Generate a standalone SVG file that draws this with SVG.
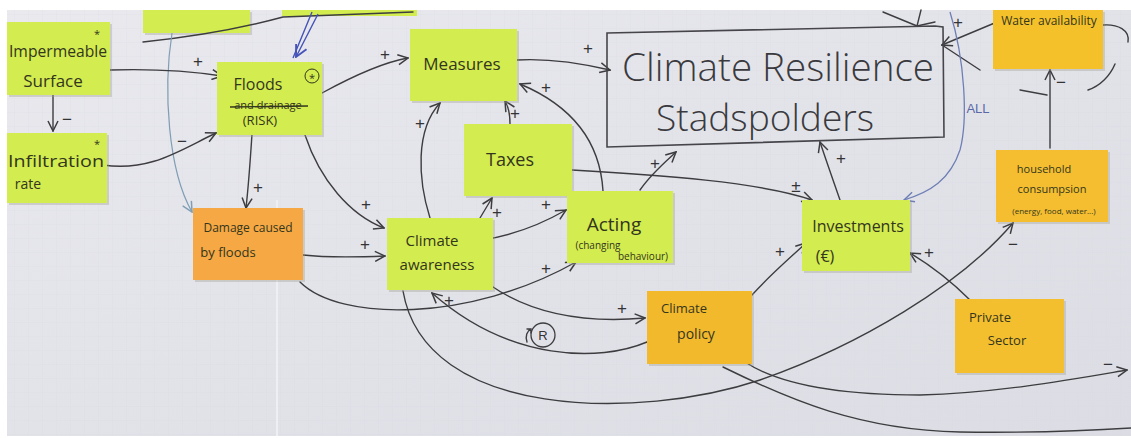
<svg xmlns="http://www.w3.org/2000/svg" width="1131" height="438" viewBox="0 0 1131 438">
<defs>
<linearGradient id="paper" x1="0" y1="0" x2="1" y2="1">
<stop offset="0" stop-color="#e9e9ee"/><stop offset="0.5" stop-color="#e2e3e9"/><stop offset="1" stop-color="#dcdde4"/>
</linearGradient>
<pattern id="grid" width="14" height="14" patternUnits="userSpaceOnUse">
<path d="M14,0 L0,0 0,14" fill="none" stroke="#d3d5de" stroke-width="0.6"/>
</pattern>
<marker id="ah" viewBox="0 0 12 12" refX="11" refY="6" markerWidth="12" markerHeight="12" markerUnits="userSpaceOnUse" orient="auto">
<path d="M1,1 L11,6 L1,11" fill="none" stroke="#3d3d40" stroke-width="1.5"/>
</marker>
<marker id="ahb" viewBox="0 0 12 12" refX="11" refY="6" markerWidth="12" markerHeight="12" markerUnits="userSpaceOnUse" orient="auto">
<path d="M1,1 L11,6 L1,11" fill="none" stroke="#7f9db5" stroke-width="1.5"/>
</marker>
<marker id="ahd" viewBox="0 0 12 12" refX="11" refY="6" markerWidth="14" markerHeight="14" markerUnits="userSpaceOnUse" orient="auto">
<path d="M1,1 L11,6 L1,11" fill="none" stroke="#4453b8" stroke-width="1.6"/>
</marker>
<marker id="ahl" viewBox="0 0 12 12" refX="11" refY="6" markerWidth="12" markerHeight="12" markerUnits="userSpaceOnUse" orient="auto">
<path d="M1,1 L11,6 L1,11" fill="none" stroke="#6f7fb5" stroke-width="1.5"/>
</marker>
</defs>
<style>
.lime{fill:#d3ec4f}
.orange{fill:#f6a844}
.amber{fill:#f3b92c}
.shadow{fill:#9a9c8c;opacity:0.35}
.t{font-family:"Open Sans","Liberation Sans",sans-serif;fill:#33361e;text-anchor:middle;dominant-baseline:central}
.big{font-family:"Open Sans","Liberation Sans",sans-serif;font-weight:300;fill:#3a3a3e;text-anchor:middle;dominant-baseline:central}
.c{fill:none;stroke:#3d3d40;stroke-width:1.4;stroke-linecap:round}
.cb{fill:none;stroke:#7f9db5;stroke-width:1.2}
.lbl{font-family:"Liberation Sans",sans-serif;font-size:17px;fill:#333336;text-anchor:middle;dominant-baseline:central}
</style>
<rect width="1131" height="438" fill="#ffffff"/>
<rect x="7" y="10" width="1124" height="426" fill="url(#paper)"/>
<rect x="7" y="10" width="1124" height="426" fill="url(#grid)" opacity="0.5"/>
<line x1="277" y1="200" x2="277" y2="436" stroke="#eeeef3" stroke-width="2"/>

<g id="top-note-1"><rect x="145" y="12" width="107" height="23" class="shadow"/><rect x="143" y="10" width="107" height="23" class="lime"/></g>
<g id="top-note-2"><rect x="282" y="10" width="135" height="6" class="lime"/></g>

<g id="connectors">
<path class="c" d="M143,42 C200,36 250,26 283,17 L413,12"/>
<path class="cb" d="M172,33 C163,90 168,170 192,212" marker-end="url(#ahb)"/>
<path fill="none" stroke="#4453b8" stroke-width="1.4" d="M312,12 L293,58 M318,14 L296,57" marker-end="url(#ahd)"/>
<path class="c" d="M110,70 Q170,68 222,76" marker-end="url(#ah)"/>
<text class="lbl" x="198" y="61">+</text>
<path class="c" d="M53,95 L53,131" marker-end="url(#ah)"/>
<text class="lbl" x="67" y="119">−</text>
<path class="c" d="M103,165 C150,172 180,150 216,133" marker-end="url(#ah)"/>
<text class="lbl" x="182" y="141">−</text>
<path class="c" d="M252,134 C250,165 248,190 246,208" marker-end="url(#ah)"/>
<text class="lbl" x="258" y="187">+</text>
<path class="c" d="M305,135 C320,180 350,215 384,228" marker-end="url(#ah)"/>
<text class="lbl" x="366" y="204">+</text>
<path class="c" d="M322,93 C355,75 385,62 408,58" marker-end="url(#ah)"/>
<text class="lbl" x="385" y="54">+</text>
<path class="c" d="M517,60 C550,58 580,63 610,70" marker-end="url(#ah)"/>
<text class="lbl" x="588" y="48">+</text>
<path class="c" d="M510,124 C510,113 508,106 505,101" marker-end="url(#ah)"/>
<text class="lbl" x="515" y="113">+</text>
<path class="c" d="M603,191 C600,140 570,105 520,84" marker-end="url(#ah)"/>
<text class="lbl" x="546" y="87">+</text>
<path class="c" d="M430,218 C418,180 415,130 440,103" marker-end="url(#ah)"/>
<text class="lbl" x="420" y="123">+</text>
<path class="c" d="M480,218 L492,198" marker-end="url(#ah)"/>
<text class="lbl" x="497" y="212">+</text>
<path class="c" d="M482,240 C515,235 540,225 566,210" marker-end="url(#ah)"/>
<text class="lbl" x="546" y="204">+</text>
<path class="c" d="M303,255 C330,258 360,257 385,256" marker-end="url(#ah)"/>
<text class="lbl" x="365" y="244">+</text>
<path class="c" d="M300,282 C340,322 470,322 576,262" marker-end="url(#ah)"/>
<text class="lbl" x="546" y="268">+</text>
<path class="c" d="M640,190 C650,175 665,162 676,152" marker-end="url(#ah)"/>
<text class="lbl" x="655" y="163">+</text>
<path class="c" d="M572,170 C660,175 760,182 812,200" marker-end="url(#ah)"/>
<text class="lbl" x="796" y="186">±</text>
<path class="c" d="M490,285 C540,320 600,322 645,318" marker-end="url(#ah)"/>
<text class="lbl" x="622" y="308">+</text>
<path class="c" d="M647,342 C600,362 510,362 432,293" marker-end="url(#ah)"/>
<text class="lbl" x="449" y="300">+</text>
<circle cx="543" cy="335" r="12" fill="none" stroke="#3d3d40" stroke-width="1.3"/>
<text class="lbl" x="543" y="335" style="font-size:13px">R</text>
<path class="c" d="M527,342 C525,336 527,331 531,329 M527,329 L531,329 L531,333"/>
<path class="c" d="M752,295 C770,275 790,258 806,243" marker-end="url(#ah)"/>
<text class="lbl" x="780" y="251">+</text>
<path class="c" d="M840,200 C833,180 826,160 820,142" marker-end="url(#ah)"/>
<text class="lbl" x="841" y="158">+</text>
<path class="c" d="M970,300 C950,280 930,265 910,253" marker-end="url(#ah)"/>
<text class="lbl" x="929" y="252">+</text>
<path class="c" d="M1050,148 L1050,70" marker-end="url(#ah)"/>
<text class="lbl" x="1061" y="82">−</text>
<path class="c" d="M403,291 C425,420 640,420 760,380 C860,345 960,285 1013,223" marker-end="url(#ah)"/>
<text class="lbl" x="1013" y="244">−</text>
<path class="c" d="M745,362 C780,385 840,395 920,395 C1000,393 1080,378 1127,370" marker-end="url(#ah)"/>
<text class="lbl" x="1108" y="364">−</text>
<path class="c" d="M723,367 C790,400 860,430 960,432 C1040,433 1100,430 1131,428"/>
<path class="c" d="M883,12 L917,26 M921,10 L917,26 M935,22 L917,26"/>
<path class="c" d="M997,22 L942,45" marker-end="url(#ah)"/>
<text class="lbl" x="958" y="22">+</text>
<path class="c" d="M980,70 L942,45"/>
<path fill="none" stroke="#6f7fb5" stroke-width="1.3" d="M950,12 C965,60 968,120 960,150 C950,180 930,192 904,200" marker-end="url(#ahl)"/>
<text x="978" y="108" style="font-family:'Liberation Sans',sans-serif;font-size:13px;fill:#5a68a8;text-anchor:middle;dominant-baseline:central">ALL</text>
<path class="c" d="M1103,25 C1118,24 1130,30 1128,42"/>
<path class="c" d="M1088,90 C1100,86 1110,76 1115,64"/>
<path class="c" d="M1020,90 L1047,95"/>
</g>

<g id="climate-resilience">
<path d="M607,33 L935,26 L943,27 L944,137 L607,147 Z" fill="none" stroke="#45454a" stroke-width="1.6"/>
<text class="big" x="778" y="66" style="font-size:38px" textLength="312" lengthAdjust="spacingAndGlyphs">Climate Resilience</text>
<text class="big" x="765" y="117" style="font-size:36px" textLength="218" lengthAdjust="spacingAndGlyphs">Stadspolders</text>
</g>

<g id="impermeable-surface">
<rect x="9" y="24" width="103" height="73" class="shadow"/>
<rect x="7" y="22" width="103" height="73" class="lime"/>
<text class="t" x="97" y="33" style="font-size:11px">*</text>
<text class="t" x="58" y="50" style="font-size:17px" textLength="98" lengthAdjust="spacingAndGlyphs">Impermeable</text>
<text class="t" x="53" y="80" style="font-size:17px">Surface</text>
</g>

<g id="infiltration-rate">
<rect x="9" y="135" width="100" height="70" class="shadow"/>
<rect x="7" y="133" width="100" height="70" class="lime"/>
<text class="t" x="97" y="143" style="font-size:11px">*</text>
<text class="t" x="56" y="160" style="font-size:17px" textLength="96" lengthAdjust="spacingAndGlyphs">Infiltration</text>
<text class="t" x="28" y="183" style="font-size:14px">rate</text>
</g>

<g id="floods">
<rect x="219" y="64" width="105" height="73" class="shadow"/>
<rect x="217" y="62" width="105" height="73" class="lime"/>
<text class="t" x="258" y="84" style="font-size:16px">Floods</text>
<circle cx="312" cy="76" r="7" fill="none" stroke="#33361e" stroke-width="1"/>
<text class="t" x="312" y="77" style="font-size:11px">*</text>
<text class="t" x="268" y="104" style="font-size:11px">and drainage</text>
<line x1="230" y1="107" x2="308" y2="106" stroke="#33361e" stroke-width="1.4"/>
<text class="t" x="260" y="120" style="font-size:13px">(RISK)</text>
</g>

<g id="damage">
<rect x="195" y="210" width="110" height="72" class="shadow"/>
<rect x="193" y="208" width="110" height="72" class="orange"/>
<text class="t" x="248" y="227" style="font-size:12px">Damage caused</text>
<text class="t" x="228" y="252" style="font-size:13px">by floods</text>
</g>

<g id="measures">
<rect x="412" y="31" width="107" height="72" class="shadow"/>
<rect x="410" y="29" width="107" height="72" class="lime"/>
<text class="t" x="462" y="63" style="font-size:17px">Measures</text>
</g>

<g id="taxes">
<rect x="466" y="126" width="108" height="72" class="shadow"/>
<rect x="464" y="124" width="108" height="72" class="lime"/>
<text class="t" x="510" y="159" style="font-size:18px">Taxes</text>
</g>

<g id="climate-awareness">
<rect x="389" y="220" width="106" height="72" class="shadow"/>
<rect x="387" y="218" width="106" height="72" class="lime"/>
<text class="t" x="432" y="240" style="font-size:15px">Climate</text>
<text class="t" x="437" y="264" style="font-size:15px">awareness</text>
</g>

<g id="acting">
<rect x="569" y="193" width="106" height="72" class="shadow"/>
<rect x="567" y="191" width="106" height="72" class="lime"/>
<text class="t" x="614" y="224" style="font-size:19px">Acting</text>
<text class="t" x="598" y="245" style="font-size:10px">(changing</text>
<text class="t" x="643" y="256" style="font-size:10px">behaviour)</text>
</g>

<g id="investments">
<rect x="804" y="202" width="108" height="71" class="shadow"/>
<rect x="802" y="200" width="108" height="71" class="lime"/>
<text class="t" x="858" y="226" style="font-size:16px">Investments</text>
<text class="t" x="825" y="256" style="font-size:16px">(€)</text>
</g>

<g id="climate-policy">
<rect x="649" y="293" width="105" height="73" class="shadow"/>
<rect x="647" y="291" width="105" height="73" class="amber"/>
<text class="t" x="684" y="308" style="font-size:13px">Climate</text>
<text class="t" x="696" y="333" style="font-size:14px">policy</text>
</g>

<g id="private-sector">
<rect x="957" y="301" width="109" height="74" class="shadow"/>
<rect x="955" y="299" width="109" height="74" fill="#f4bf2e"/>
<text class="t" x="990" y="317" style="font-size:13px">Private</text>
<text class="t" x="1007" y="340" style="font-size:13px">Sector</text>
</g>

<g id="water-availability">
<rect x="995" y="12" width="110" height="59" class="shadow"/>
<rect x="993" y="10" width="110" height="59" fill="#f5c12b"/>
<text class="t" x="1049" y="20" style="font-size:12px">Water availability</text>
</g>

<g id="household-consumption">
<rect x="998" y="152" width="112" height="72" class="shadow"/>
<rect x="996" y="150" width="112" height="72" fill="#f4be30"/>
<text class="t" x="1044" y="168" style="font-size:11px">household</text>
<text class="t" x="1052" y="188" style="font-size:11px">consumpsion</text>
<text class="t" x="1054" y="210" style="font-size:8px">(energy, food, water...)</text>
</g>
</svg>
